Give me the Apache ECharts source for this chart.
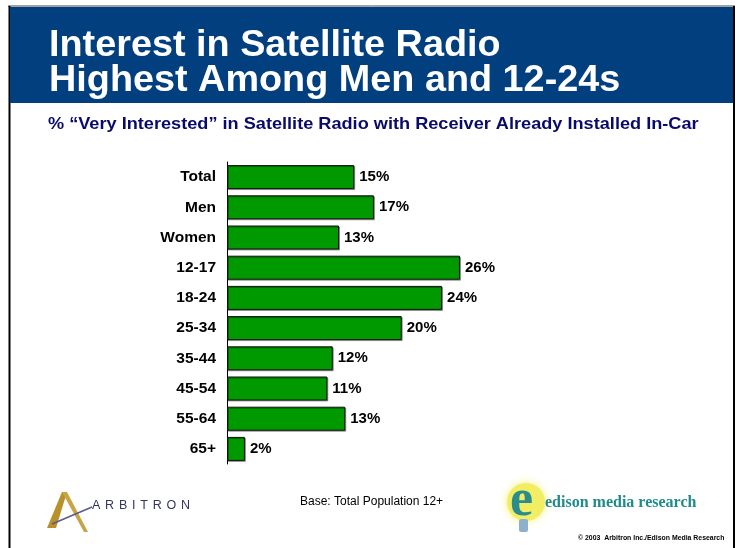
<!DOCTYPE html>
<html>
<head>
<meta charset="utf-8">
<script src="https://cdn.jsdelivr.net/npm/echarts@6/dist/echarts.min.js"></script>
<style>html,body{margin:0;padding:0;background:#fff}#c{width:739px;height:548px}</style>
</head>
<body>
<div id="c"></div>
<script>
// Data
const categories = ['Total', 'Men', 'Women', '12-17', '18-24', '25-34', '35-44', '45-54', '55-64', '65+'];
// bar lengths as drawn (percent)
const values = [14.2, 16.4, 12.5, 26, 24, 19.5, 11.8, 11.2, 13.2, 2.0];
// printed value labels
const valueLabels = ['15%', '17%', '13%', '26%', '24%', '20%', '12%', '11%', '13%', '2%'];

const titleLines = ['Interest in Satellite Radio', 'Highest Among Men and 12-24s'];
const subtitle = '% \u201cVery Interested\u201d in Satellite Radio with Receiver Already Installed In-Car';
const baseNote = 'Base: Total Population 12+';
const copyright = '\u00a9 2003  Arbitron Inc./Edison Media Research';
const arbitronWord = 'ARBITRON';

const chart = echarts.init(document.getElementById('c'), null, {renderer: 'canvas'});

// letter-spaced logo word
const arbFont = 'normal 12.5px "Liberation Sans", Arial';
const ctx = document.createElement('canvas').getContext('2d');
ctx.font = arbFont;
const arbWidths = arbitronWord.split('').map(ch => ctx.measureText(ch).width);
const arbTotal = arbWidths.reduce((a, b) => a + b, 0);
const arbGap = (98 - arbTotal) / (arbitronWord.length - 1);
let arbX = 92;
const arbLetters = arbitronWord.split('').map((ch, i) => {
  const el = {type: 'text', x: arbX, y: 499,
    style: {text: ch, fontFamily: 'Liberation Sans, Arial', fontSize: 12.5, fill: '#34345f'}};
  arbX += arbWidths[i] + arbGap;
  return el;
});

const option = {
  backgroundColor: '#ffffff',
  animation: false,
  grid: {left: 227, top: 162, width: 268.8, height: 302, containLabel: false},
  xAxis: {type: 'value', min: 0, max: 30, show: false},
  yAxis: {
    type: 'category', data: categories, inverse: true,
    axisLine: {show: true, lineStyle: {color: '#000', width: 1}},
    axisTick: {show: false},
    splitLine: {show: false},
    axisLabel: {
      margin: 11, color: '#000', fontFamily: 'Liberation Sans, Arial',
      fontSize: 15.5, fontWeight: 'bold'
    }
  },
  series: [{
    type: 'bar', data: values, barWidth: 24,
    itemStyle: {color: '#009900', borderColor: '#111', borderWidth: 1,
      shadowColor: 'rgba(0,0,0,0.35)', shadowOffsetX: 1, shadowOffsetY: 1},
    label: {
      show: true, position: 'right', distance: 5,
      formatter: p => valueLabels[p.dataIndex],
      color: '#000', fontFamily: 'Liberation Sans, Arial', fontSize: 15, fontWeight: 'bold'
    }
  }],
  graphic: [
    // page frame
    {type: 'line', shape: {x1: 8, y1: 6, x2: 735, y2: 6}, style: {stroke: '#444', lineWidth: 1}},
    {type: 'line', shape: {x1: 9.5, y1: 6, x2: 9.5, y2: 548}, style: {stroke: '#000', lineWidth: 2}},
    {type: 'line', shape: {x1: 734, y1: 6, x2: 734, y2: 548}, style: {stroke: '#000', lineWidth: 2}},
    // banner
    {type: 'rect', shape: {x: 10, y: 7, width: 723, height: 96}, style: {fill: '#023f7e'}},
    {type: 'text', x: 49, y: 28, scaleX: 1.05,
      style: {text: titleLines.join('\n'), fill: '#fff', fontFamily: 'Liberation Sans, Arial',
        fontSize: 36, fontWeight: 'bold', lineHeight: 35.5}},
    // subtitle
    {type: 'text', x: 48, y: 116, scaleX: 1.1,
      style: {text: subtitle, fill: '#0a0a6a', fontFamily: 'Liberation Sans, Arial',
        fontSize: 16.5, fontWeight: 'bold'}},
    // Arbitron logo
    {type: 'polygon', shape: {points: [[47, 528], [62, 492], [67, 492], [56, 528]]}, style: {fill: '#b8912a'}},
    {type: 'polygon', shape: {points: [[62, 492], [67, 492], [88, 532], [84, 532]]}, style: {fill: '#c9a445'}},
    {type: 'line', shape: {x1: 52, y1: 524, x2: 92, y2: 507}, style: {stroke: '#5a5a8c', lineWidth: 1.5}},
    ...arbLetters,
    // base note
    {type: 'text', x: 300, y: 496,
      style: {text: baseNote, fill: '#000', fontFamily: 'Liberation Sans, Arial', fontSize: 12}},
    // Edison logo
    {type: 'ellipse', shape: {cx: 526, cy: 502, rx: 19, ry: 19},
      style: {fill: '#f2ee63', shadowBlur: 8, shadowColor: '#f5f07a'}},
    {type: 'rect', shape: {x: 519, y: 519, width: 9, height: 13, r: 2}, style: {fill: '#8fb0cc'}},
    {type: 'text', x: 510, y: 476,
      style: {text: 'e', fill: '#2a8c8c', fontFamily: 'Liberation Serif, Times New Roman',
        fontSize: 52, fontWeight: 'bold'}},
    {type: 'text', x: 545, y: 495,
      style: {text: 'edison media research', fill: '#1f8b8b', fontFamily: 'Liberation Serif, Times New Roman',
        fontSize: 16, fontWeight: 'bold'}},
    {type: 'text', x: 578, y: 535,
      style: {text: copyright, fill: '#000', fontFamily: 'Liberation Sans, Arial',
        fontSize: 6.9, fontWeight: 'bold'}}
  ]
};
chart.setOption(option);
</script>
</body>
</html>
